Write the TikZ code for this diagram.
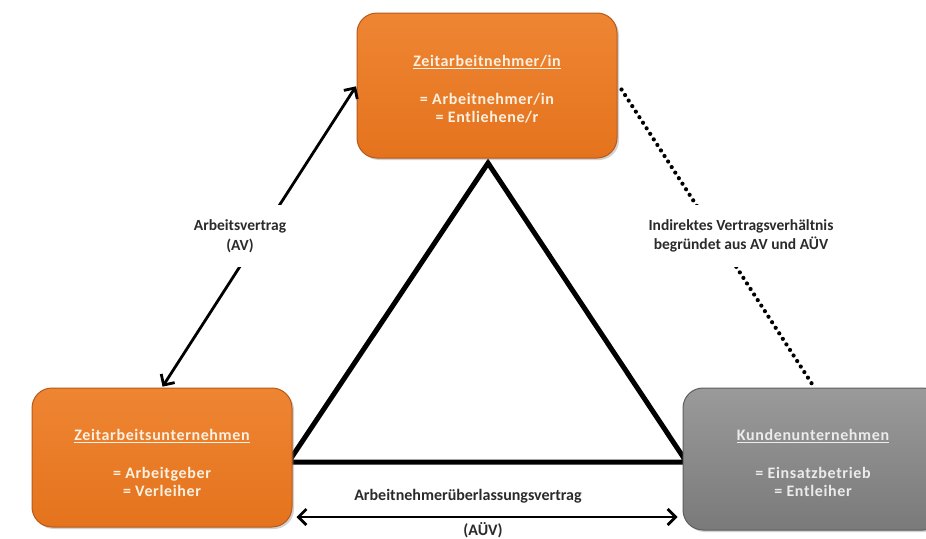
\documentclass[tikz,border=0pt]{standalone}
\usepackage{fontspec}
\setmainfont{Carlito}
\newfontfamily\boxfont[LetterSpace=4]{Carlito}
\usetikzlibrary{arrows.meta,shadows,backgrounds,calc}
\definecolor{orngtop}{HTML}{EE8533}
\definecolor{orngbot}{HTML}{E5731D}
\definecolor{orngedge}{HTML}{B8591A}
\definecolor{graytop}{HTML}{9A9A9A}
\definecolor{graybot}{HTML}{7A7A7A}
\definecolor{grayedge}{HTML}{5E5E5E}
\definecolor{boxtext}{HTML}{FBF1E2}
\definecolor{labeltext}{HTML}{2B2B2B}
\tikzset{
  party/.style={rounded corners=20pt, minimum width=260pt, line width=1pt,
    drop shadow={opacity=0.35, shadow xshift=2pt, shadow yshift=-2pt}},
  orangebox/.style={party, draw=orngedge, top color=orngtop, bottom color=orngbot},
  graybox/.style={party, draw=grayedge, top color=graytop, bottom color=graybot},
  boxlabel/.style={text=boxtext, align=center, font=\boxfont\bfseries\fontsize{16}{18}\selectfont},
  edgelabel/.style={text=labeltext, align=center, fill=white, font=\bfseries\fontsize{15.5}{19.5}\selectfont},
  plainlabel/.style={text=labeltext, align=center, font=\bfseries\fontsize{16}{19.5}\selectfont},
  arrowline/.style={line width=2.8pt, {Straight Barb[length=8pt,width=16pt]}-{Straight Barb[length=8pt,width=16pt]}},
  dotline/.style={line width=4.2pt, line cap=round, dash pattern=on 0pt off 6.6pt},
  triline/.style={line width=5pt, line join=miter}
}
\begin{document}
\begin{tikzpicture}[x=1pt,y=-1pt]
\clip (0,0) rectangle (926,538);
% boxes
\node[orangebox, minimum height=145pt] (top) at (487,85.5) {};
\node[orangebox, minimum height=139pt] (left) at (162,457.5) {};
\node[graybox, minimum height=142pt] (right) at (813,459) {};
% box texts
\node[boxlabel] (toptext) at (487,89) {\underline{Zeitarbeitnehmer/in}\\[20pt]= Arbeitnehmer/in\\= Entliehene/r};
\node[boxlabel] (lefttext) at (162,463) {\underline{Zeitarbeitsunternehmen}\\[20pt]= Arbeitgeber\\= Verleiher};
\node[boxlabel, text=white!92!black] (righttext) at (813,463) {\underline{Kundenunternehmen}\\[20pt]= Einsatzbetrieb\\= Entleiher};
% triangle
\coordinate (tb) at (488,462);
\coordinate (apex) at (488,163);
\begin{scope}[on background layer]
\fill[white] (0,0) rectangle (926,538);
\draw[triline] (apex) -- ($(left.east |- tb)+(-4,0)$) -- ($(right.west |- tb)+(4,0)$) -- cycle;
\end{scope}
% Arbeitsvertrag
\draw[arrowline, shorten <=1pt, shorten >=1pt] (top.west) -- (left.north);
\node[edgelabel, minimum height=62pt, minimum width=104pt] (av) at (240,236) {Arbeitsvertrag\\(AV)};
% indirect
\draw[dotline] ($(top.east)+(4,4)$) -- ($(right.north)+(0,-2)$);
\node[edgelabel, minimum height=62pt, minimum width=200pt] (ind) at (741,236) {Indirektes Vertragsverhältnis\\begründet aus AV und AÜV};
% AÜV
\coordinate (aue) at (480,517);
\draw[arrowline] ($(left.east |- aue)+(4,0)$) -- ($(right.west |- aue)+(-5,0)$);
\node[plainlabel] (auelabel) at (468,496) {Arbeitnehmerüberlassungsvertrag};
\node[plainlabel] (auev) at (483,530) {(AÜV)};
\end{tikzpicture}
\end{document}
